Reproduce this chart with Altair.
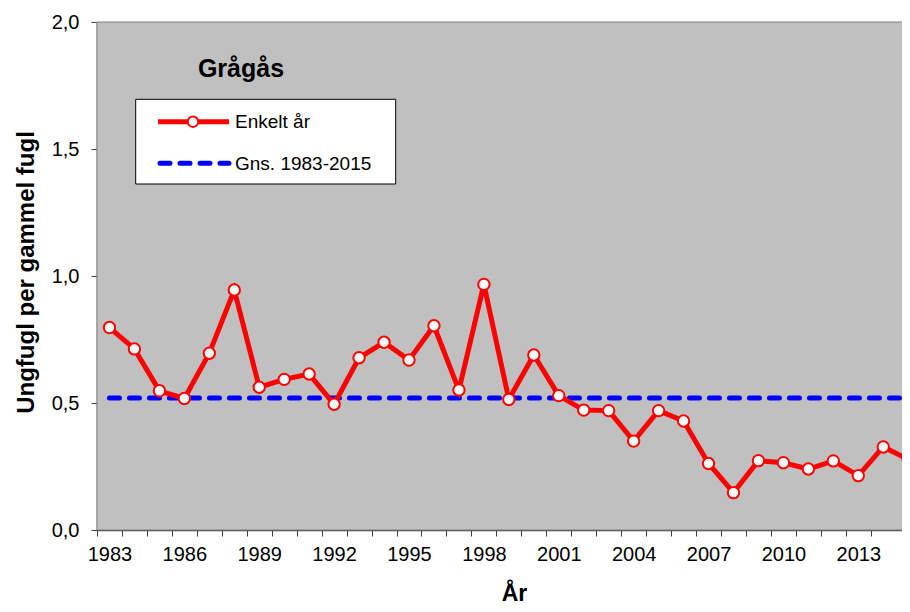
import altair as alt
import pandas as pd

years = list(range(1983, 2016))
values = [0.797, 0.713, 0.548, 0.518, 0.696, 0.945, 0.562, 0.593, 0.614, 0.495,
          0.678, 0.739, 0.669, 0.804, 0.551, 0.967, 0.514, 0.689, 0.529, 0.472,
          0.470, 0.350, 0.470, 0.429, 0.262, 0.147, 0.273, 0.265, 0.240, 0.272,
          0.214, 0.327, 0.278]
mean_value = 0.52
y_ticks = [0.0, 0.5, 1.0, 1.5, 2.0]

df = pd.DataFrame({"year": years, "value": values, "mean": [mean_value] * len(years)})

FONT = "Liberation Sans"
W, H = 805, 508
BAND = 24.96

x_enc = alt.X(
    "year:Q",
    scale=alt.Scale(domain=[1982.5, 1982.5 + W / BAND], nice=False, zero=False),
    axis=alt.Axis(
        values=years,
        tickOffset=-BAND / 2,
        labelOffset=BAND / 2,
        format="d",
        labelExpr="datum.value % 3 == 0 ? datum.label : ''",
        labelOverlap=False,
        labelFlush=False,
        grid=False,
        tickSize=6,
        tickColor="#404040",
        domainColor="#404040",
        domainWidth=1.5,
        labelFontSize=20,
        labelPadding=8,
        labelColor="black",
        title="År",
        titleFontSize=23,
        titleFontWeight="bold",
        titleX=417,
        titleY=70,
        titleBaseline="alphabetic",
        titleColor="black",
    ),
)

y_enc = alt.Y(
    "value:Q",
    scale=alt.Scale(domain=[0, 2], nice=False),
    axis=alt.Axis(
        values=y_ticks,
        labelExpr="replace(format(datum.value, '.1f'), '.', ',')",
        grid=False,
        tickSize=6,
        tickColor="#404040",
        domainColor="#404040",
        domainWidth=1.5,
        labelFontSize=20,
        labelPadding=12,
        labelColor="black",
        title="Ungfugl per gammel fugl",
        titleFontSize=24,
        titleFontWeight="bold",
        titleX=-71,
        titleY=250,
        titleBaseline="middle",
        titleColor="black",
    ),
)

base = alt.Chart(df)
one = alt.Data(values=[{}])

plot_bg = alt.Chart(one).mark_rect(fill="#C0C0C0", stroke="#808080", strokeWidth=1).encode(
    x=alt.value(0), x2=alt.value(W + 20), y=alt.value(0), y2=alt.value(H))

mean_line = base.mark_line(color="#0000FF", strokeWidth=5, strokeDash=[10, 10], strokeCap="round").encode(
    x=x_enc, y=alt.Y("mean:Q")
)
line = base.mark_line(color="#FF0000", strokeWidth=5).encode(x=x_enc, y=y_enc)
points = base.mark_point(shape="circle", filled=True, fill="white", stroke="#FF0000",
                         strokeWidth=2, size=130, opacity=1).encode(x=x_enc, y=y_enc)

title_txt = alt.Chart(one).mark_text(font=FONT, fontSize=25, fontWeight="bold", align="center",
                                     baseline="alphabetic", color="black").encode(
    x=alt.value(144), y=alt.value(55), text=alt.value("Grågås"))

legend_box = alt.Chart(one).mark_rect(fill="white", stroke="black", strokeWidth=1).encode(
    x=alt.value(38.7), x2=alt.value(298.7), y=alt.value(77.3), y2=alt.value(162))

leg_line1 = alt.Chart(one).mark_rule(color="#FF0000", strokeWidth=5).encode(
    x=alt.value(61), x2=alt.value(132), y=alt.value(99.7))
leg_pt1 = alt.Chart(one).mark_point(shape="circle", filled=True, fill="white", stroke="#FF0000",
                                    strokeWidth=2, size=110, opacity=1).encode(
    x=alt.value(96), y=alt.value(99.7))
leg_line2 = alt.Chart(one).mark_rule(color="#0000FF", strokeWidth=5, strokeDash=[10, 10],
                                     strokeCap="round").encode(
    x=alt.value(63), x2=alt.value(132), y=alt.value(141.3))
leg_txt1 = alt.Chart(one).mark_text(font=FONT, fontSize=19, align="left", baseline="middle",
                                    color="black").encode(
    x=alt.value(138), y=alt.value(100), text=alt.value("Enkelt år"))
leg_txt2 = alt.Chart(one).mark_text(font=FONT, fontSize=19, align="left", baseline="middle",
                                    color="black").encode(
    x=alt.value(138), y=alt.value(141.5), text=alt.value("Gns. 1983-2015"))

chart = alt.layer(
    plot_bg, mean_line, line, points, title_txt, legend_box, leg_line1, leg_pt1, leg_line2,
    leg_txt1, leg_txt2
).properties(
    width=W, height=H,
    autosize=alt.AutoSizeParams(type="none"),
    padding={"left": 89, "top": 14, "right": 0, "bottom": 76},
    background="white",
).configure_view(
    stroke=None
).configure(font=FONT)

chart.save("out.html", embed_options={"renderer": "svg", "actions": False})
